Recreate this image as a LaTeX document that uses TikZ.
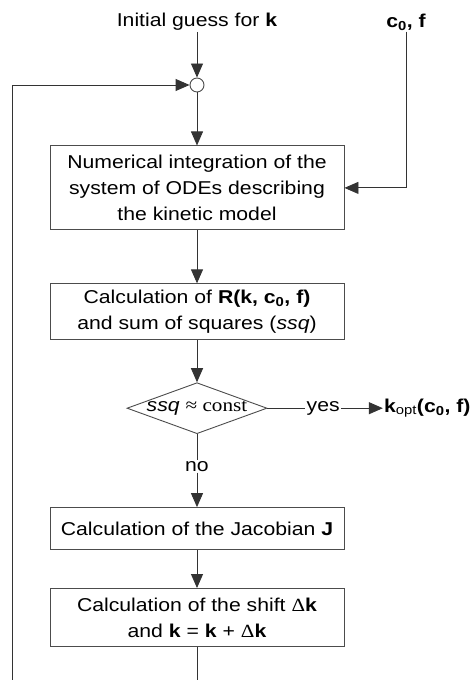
\documentclass[tikz,border=0pt]{standalone}
\usepackage{fontspec}
\setmainfont[FakeStretch=1.14]{Liberation Sans}
\newfontfamily\serif[FakeStretch=1.14]{Liberation Serif}
\usetikzlibrary{shapes}
\usetikzlibrary{positioning}
\usetikzlibrary{arrows.meta}

\tikzset{
    box/.style={draw=black!70, line width=0.9pt, minimum width=294pt, align=center, inner sep=2pt},
    decision/.style={draw=black!70, line width=0.9pt, diamond, aspect=2.75, inner sep=0pt, minimum width=140pt, minimum height=51pt},
    lbl/.style={inner sep=1pt},
    line/.style={draw=black!80, line width=0.9pt},
    arr/.style={line, -{Triangle[length=14pt,width=12pt]}},
}

\begin{document}
\begin{tikzpicture}[x=1pt, y=1pt, font=\fontsize{18.6}{26}\selectfont]
    \useasboundingbox (0,0) rectangle (469,680);

    % inputs
    \node(guess)[lbl] at (197,658) {Initial guess for \textbf{k}};
    \node(cf)[lbl] at (406,658) {\textbf{c\textsubscript{0}, f}};
    \node(circ)[draw=black!70, line width=0.9pt, circle, minimum size=14pt, inner sep=0pt] at (197,595) {};

    % main column
    \node(integ)[box, minimum height=84pt, below=53pt of circ]{Numerical integration of the\\system of ODEs describing\\the kinetic model};
    \node(resid)[box, minimum height=56pt, below=53pt of integ]{Calculation of \textbf{R(k, c\textsubscript{0}, f)}\\and sum of squares (\textit{ssq})};
    \node(dec)[decision, below=42pt of resid]{\textit{ssq} {\serif ≈ const}};
    \node(jac)[box, minimum height=42pt, below=73pt of dec]{Calculation of the Jacobian \textbf{J}};
    \node(shift)[box, minimum height=58pt, below=38pt of jac]{Calculation of the shift {\serif Δ}\textbf{k}\\and \textbf{k} = \textbf{k} + {\serif Δ}\textbf{k}};

    % branch labels
    \node(yes)[lbl, right=38pt of dec]{yes};
    \node(kopt)[lbl, right=42pt of yes]{\textbf{k}\textsubscript{opt}\textbf{(c\textsubscript{0}, f)}};
    \node(no)[lbl, below=26pt of dec]{no};

    \coordinate(bot) at (197,0);
    \coordinate(botl) at (12,0);

    \draw[arr] (guess) -- (circ);
    \draw[arr] (circ) -- (integ);
    \draw[arr] (cf) |- (integ);
    \draw[arr] (integ) -- (resid);
    \draw[arr] (resid) -- (dec);
    \draw[line] (dec) -- (yes);
    \draw[arr] (yes) -- (kopt);
    \draw[line] (dec) -- (no);
    \draw[arr] (no) -- (jac);
    \draw[arr] (jac) -- (shift);
    \draw[line] (shift) -- (bot);
    \draw[arr] (botl) |- (circ);

\end{tikzpicture}
\end{document}
